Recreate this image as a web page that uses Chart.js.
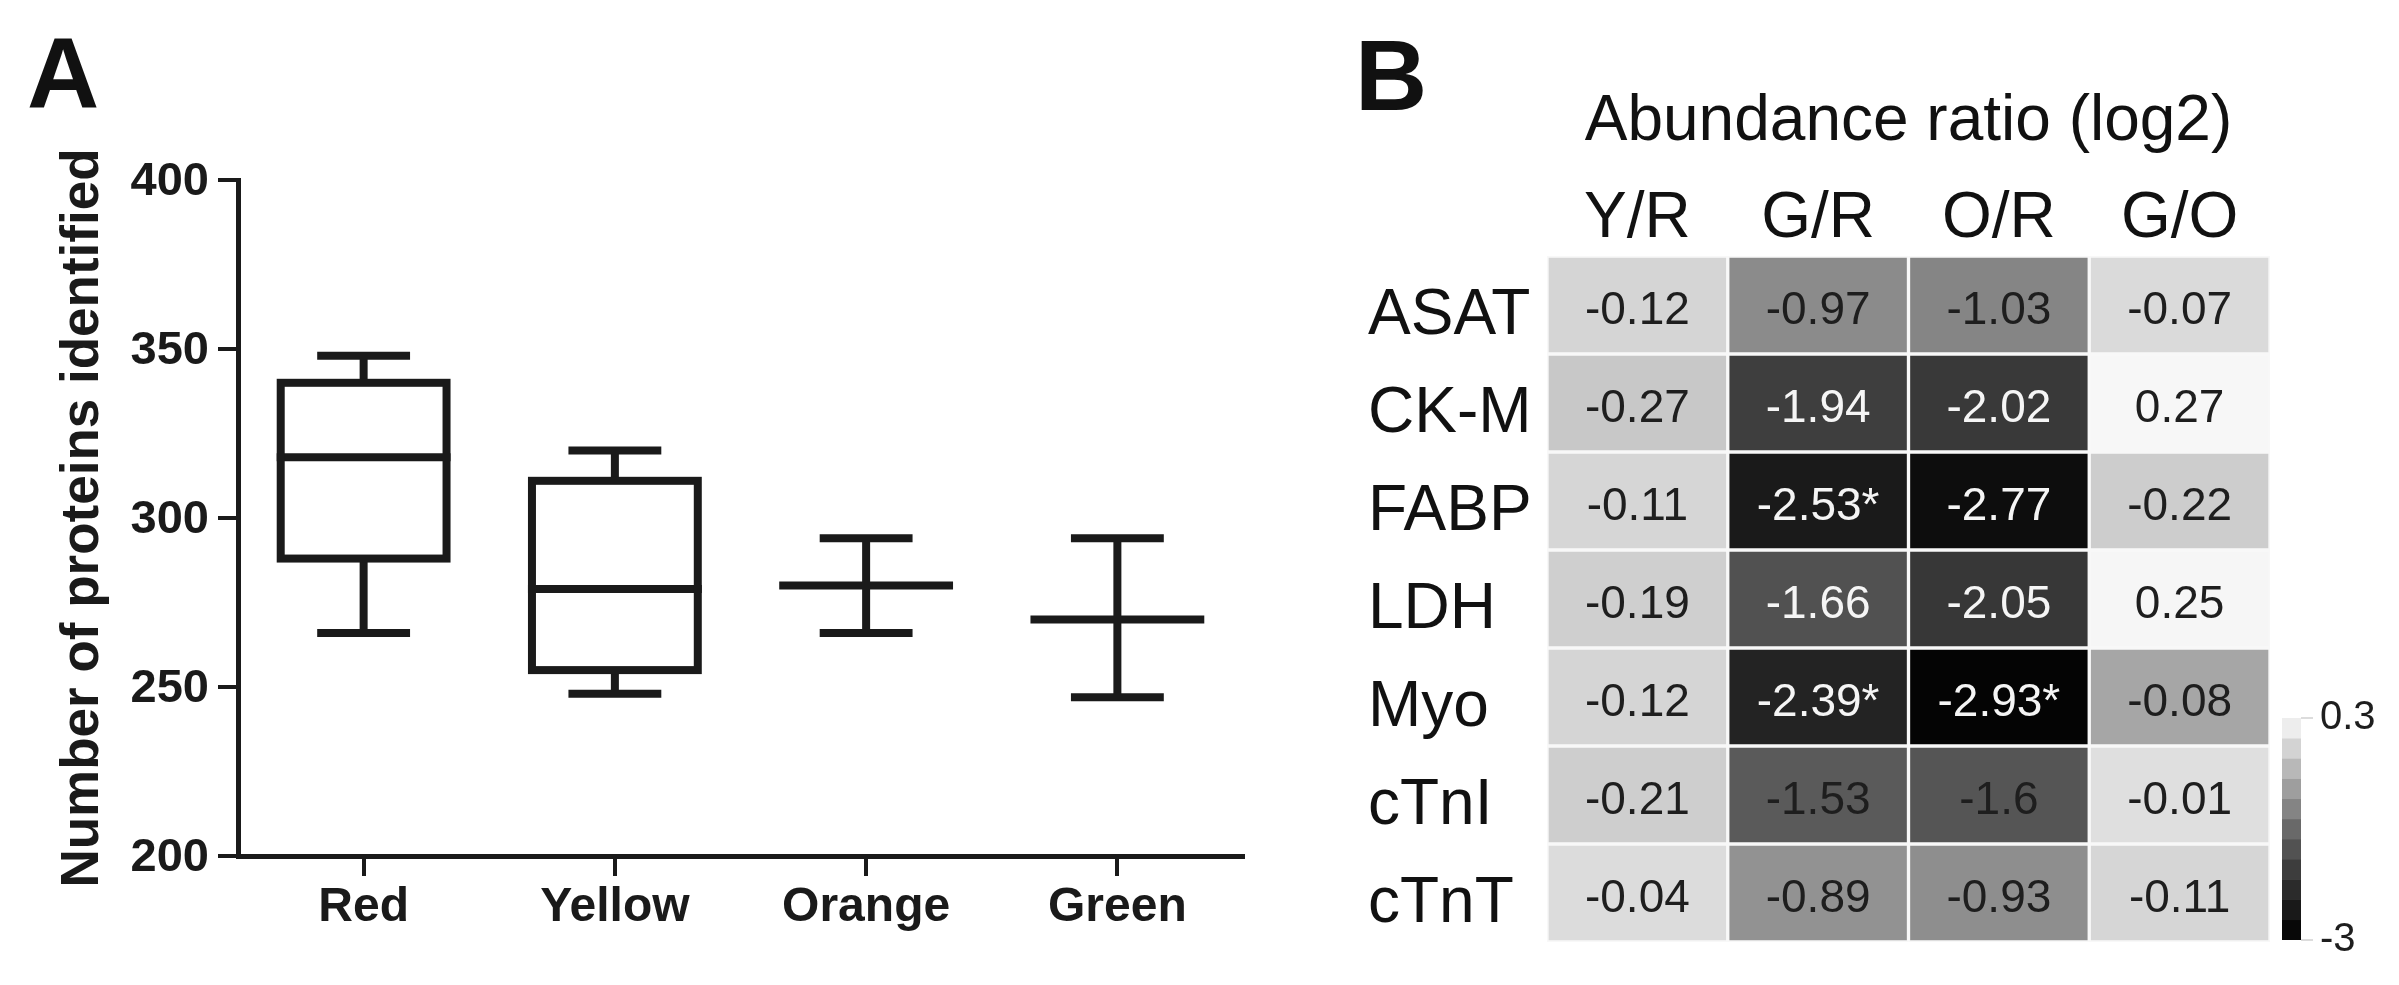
<!DOCTYPE html>
<html>
<head>
<meta charset="utf-8">
<script src="https://cdn.jsdelivr.net/npm/chart.js@4.4.1/dist/chart.umd.min.js"></script>
<style>
  html, body { margin: 0; padding: 0; background: #fff; }
  body { width: 2399px; height: 985px; position: relative; overflow: hidden; font-family: "Liberation Sans", Arial, sans-serif; }
  canvas { position: absolute; }
  .panel { position: absolute; font-weight: bold; font-size: 100px; line-height: 1; color: #111; }
</style>
</head>
<body>
<div class="panel" style="left:27px; top:23px;">A</div>
<div class="panel" style="left:1355px; top:25px;">B</div>
<canvas id="boxChart" width="1300" height="985" style="left:0; top:0;"></canvas>
<canvas id="heatChart" width="950" height="985" style="left:1330px; top:0;"></canvas>
<canvas id="scaleChart" width="139" height="295" style="left:2260px; top:690px;"></canvas>
<script>
const FONT = '"Liberation Sans", Arial, sans-serif';
const INK = '#1a1a1a';

// -----------------------------
// PANEL A DATA (box plot)
// -----------------------------
const groups = ['Red', 'Yellow', 'Orange', 'Green'];
const whiskerLow = [266, 248, 266, 247];
const quartile1 = [288, 255, 280, 270];
const medians = [318, 279, 280, 270];
const quartile3 = [340, 311, 280, 270];
const whiskerHigh = [348, 320, 294, 294];
const countTicks = [200, 250, 300, 350, 400];

// -----------------------------
// PANEL B DATA (heat map)
// -----------------------------
const ratioLabels = ['Y/R', 'G/R', 'O/R', 'G/O'];
const proteins = ['ASAT', 'CK-M', 'FABP', 'LDH', 'Myo', 'cTnI', 'cTnT'];
const ratioYR = [-0.12, -0.27, -0.11, -0.19, -0.12, -0.21, -0.04];
const ratioGR = [-0.97, -1.94, -2.53, -1.66, -2.39, -1.53, -0.89];
const ratioOR = [-1.03, -2.02, -2.77, -2.05, -2.93, -1.6, -0.93];
const ratioGO = [-0.07, 0.27, -0.22, 0.25, -0.08, -0.01, -0.11];
const starredGR = ['FABP', 'Myo'];
const starredOR = ['Myo'];
// shade of the G/O cells (Myo is drawn darker than its label)
const shadeGO = [-0.07, 0.27, -0.22, 0.25, -0.66, -0.01, -0.11];
const scaleSteps = [0.3, 0, -0.3, -0.6, -0.9, -1.2, -1.5, -1.8, -2.1, -2.4, -2.7, -3];
const scaleTicks = [-3, 0.3];

const columns = [ratioYR, ratioGR, ratioOR, ratioGO];
const shades = [ratioYR, ratioGR, ratioOR, shadeGO];
const stars = [[], starredGR, starredOR, []];

// grey ramp of the colour bar
const grayStops = [[0.3, 250], [0, 224], [-1, 136], [-1.5, 92], [-2, 58], [-2.5, 28], [-3, 0]];
function grayLevel(v) {
    if (v >= grayStops[0][0]) return grayStops[0][1];
    for (let k = 1; k < grayStops.length; k++) {
        const [v0, g0] = grayStops[k - 1];
        const [v1, g1] = grayStops[k];
        if (v >= v1) return g0 + (g1 - g0) * (v0 - v) / (v0 - v1);
    }
    return 0;
}
const grayFor = v => {
    const g = Math.round(grayLevel(v));
    return `rgb(${g},${g},${g})`;
};

const common = {
    responsive: false,
    animation: false,
    devicePixelRatio: 1,
    events: [],
    plugins: { legend: { display: false }, tooltip: { enabled: false } }
};

// -----------------------------
// BOX PLOT
// -----------------------------
const boxPlotPlugin = {
    id: 'boxPlot',
    afterDatasetsDraw(chart) {
        const { ctx, scales: { y } } = chart;
        ctx.save();
        ctx.strokeStyle = INK;
        ctx.lineWidth = 8;
        chart.getDatasetMeta(0).data.forEach((bar, i) => {
            const half = bar.width / 2;
            const capHalf = bar.width * 0.28;
            const top = y.getPixelForValue(quartile3[i]);
            const bottom = y.getPixelForValue(quartile1[i]);
            const hi = y.getPixelForValue(whiskerHigh[i]);
            const lo = y.getPixelForValue(whiskerLow[i]);
            const mid = y.getPixelForValue(medians[i]);
            ctx.beginPath();
            ctx.moveTo(bar.x, hi); ctx.lineTo(bar.x, top);
            ctx.moveTo(bar.x, bottom); ctx.lineTo(bar.x, lo);
            ctx.moveTo(bar.x - capHalf, hi); ctx.lineTo(bar.x + capHalf, hi);
            ctx.moveTo(bar.x - capHalf, lo); ctx.lineTo(bar.x + capHalf, lo);
            ctx.moveTo(bar.x - half - 4, mid); ctx.lineTo(bar.x + half + 4, mid);
            ctx.stroke();
            if (bottom - top > 1) ctx.strokeRect(bar.x - half, top, bar.width, bottom - top);
        });
        ctx.restore();
    }
};

new Chart(document.getElementById('boxChart'), {
    type: 'bar',
    data: {
        labels: groups,
        datasets: [{
            data: groups.map((g, i) => [quartile1[i], quartile3[i]]),
            backgroundColor: '#fff',
            borderWidth: 0,
            barPercentage: 0.66,
            categoryPercentage: 1
        }]
    },
    options: {
        ...common,
        layout: { padding: { left: 50, right: 57, top: 180, bottom: 0 } },
        scales: {
            x: {
                grid: { drawOnChartArea: false, offset: false, tickLength: 20, lineWidth: 4, color: INK },
                border: { display: true, width: 5, color: INK },
                ticks: { padding: 8, color: INK, font: { family: FONT, size: 48, weight: 'bold', lineHeight: 1 } },
                afterFit: s => { s.height = 129; }
            },
            y: {
                min: countTicks[0],
                max: countTicks[countTicks.length - 1],
                afterBuildTicks: s => { s.ticks = countTicks.map(v => ({ value: v })); },
                grid: { drawOnChartArea: false, tickLength: 20, lineWidth: 4, color: INK },
                border: { display: true, width: 5, color: INK },
                ticks: { padding: 9, labelOffset: 2, color: INK, font: { family: FONT, size: 47, weight: 'bold', lineHeight: 1 } },
                title: {
                    display: true,
                    text: 'Number of proteins identified',
                    color: INK,
                    padding: { top: 7, bottom: 0 },
                    font: { family: FONT, size: 53, weight: 'bold', lineHeight: 1 }
                },
                afterFit: s => { s.width = 188; }
            }
        }
    },
    plugins: [boxPlotPlugin]
});

// -----------------------------
// HEAT MAP
// -----------------------------
const cellTextPlugin = {
    id: 'cellText',
    afterDatasetsDraw(chart) {
        const ctx = chart.ctx;
        ctx.save();
        ctx.font = `46px ${FONT}`;
        ctx.textAlign = 'center';
        ctx.textBaseline = 'middle';
        proteins.forEach((p, r) => {
            chart.getDatasetMeta(r).data.forEach((cell, j) => {
                const text = String(columns[j][r]) + (stars[j].includes(p) ? '*' : '');
                ctx.fillStyle = grayLevel(shades[j][r]) < 84 ? '#f5f5f5' : '#1e1e1e';
                ctx.fillText(text, cell.x, (cell.y + cell.base) / 2 + 6);
            });
        });
        ctx.restore();
    }
};

new Chart(document.getElementById('heatChart'), {
    type: 'bar',
    data: {
        labels: ratioLabels,
        datasets: proteins.map((p, r) => ({
            label: p,
            data: ratioLabels.map(() => [r, r + 1]),
            backgroundColor: c => grayFor(shades[c.dataIndex][r]),
            borderColor: '#f8f8f8',
            borderWidth: 2,
            borderSkipped: false,
            grouped: false,
            barPercentage: 1,
            categoryPercentage: 1
        }))
    },
    options: {
        ...common,
        layout: { padding: { left: 38, right: 10, top: 90, bottom: 43 } },
        scales: {
            x: {
                position: 'top',
                grid: { display: false, drawTicks: false },
                border: { display: false },
                ticks: { padding: 5, color: '#111', font: { family: FONT, size: 64, lineHeight: 1 } },
                title: {
                    display: true,
                    text: 'Abundance ratio (log2)',
                    color: '#111',
                    padding: { top: 0, bottom: 0 },
                    font: { family: FONT, size: 64, lineHeight: 1 }
                },
                afterFit: s => { s.height = 166; }
            },
            y: {
                min: 0,
                max: proteins.length,
                reverse: true,
                afterBuildTicks: s => { s.ticks = proteins.map((p, i) => ({ value: i + 0.5 })); },
                grid: { display: false, drawTicks: false },
                border: { display: false },
                ticks: {
                    crossAlign: 'far',
                    labelOffset: 11,
                    padding: 0,
                    color: '#111',
                    font: { family: FONT, size: 64, lineHeight: 1 },
                    callback: (v, i) => proteins[i]
                },
                afterFit: s => { s.width = 179; }
            }
        }
    },
    plugins: [cellTextPlugin]
});

// -----------------------------
// COLOUR BAR
// -----------------------------
new Chart(document.getElementById('scaleChart'), {
    type: 'bar',
    data: {
        labels: [''],
        datasets: scaleSteps.slice(1).map((lo, k) => ({
            data: [[lo, scaleSteps[k]]],
            backgroundColor: grayFor((lo + scaleSteps[k]) / 2),
            borderWidth: 0,
            grouped: false,
            barPercentage: 1,
            categoryPercentage: 1
        }))
    },
    options: {
        ...common,
        layout: { padding: { left: 22, right: 0, top: 28, bottom: 45 } },
        scales: {
            x: { display: false },
            y: {
                position: 'right',
                min: scaleTicks[0],
                max: scaleTicks[scaleTicks.length - 1],
                afterBuildTicks: s => { s.ticks = scaleTicks.map(v => ({ value: v })); },
                grid: { drawOnChartArea: false, tickLength: 12, lineWidth: 2, color: '#dcdcdc' },
                border: { display: false },
                ticks: { padding: 7, color: '#1e1e1e', font: { family: FONT, size: 40, lineHeight: 1 }, callback: v => String(v) },
                afterFit: s => { s.width = 98; }
            }
        }
    }
});
</script>
</body>
</html>
